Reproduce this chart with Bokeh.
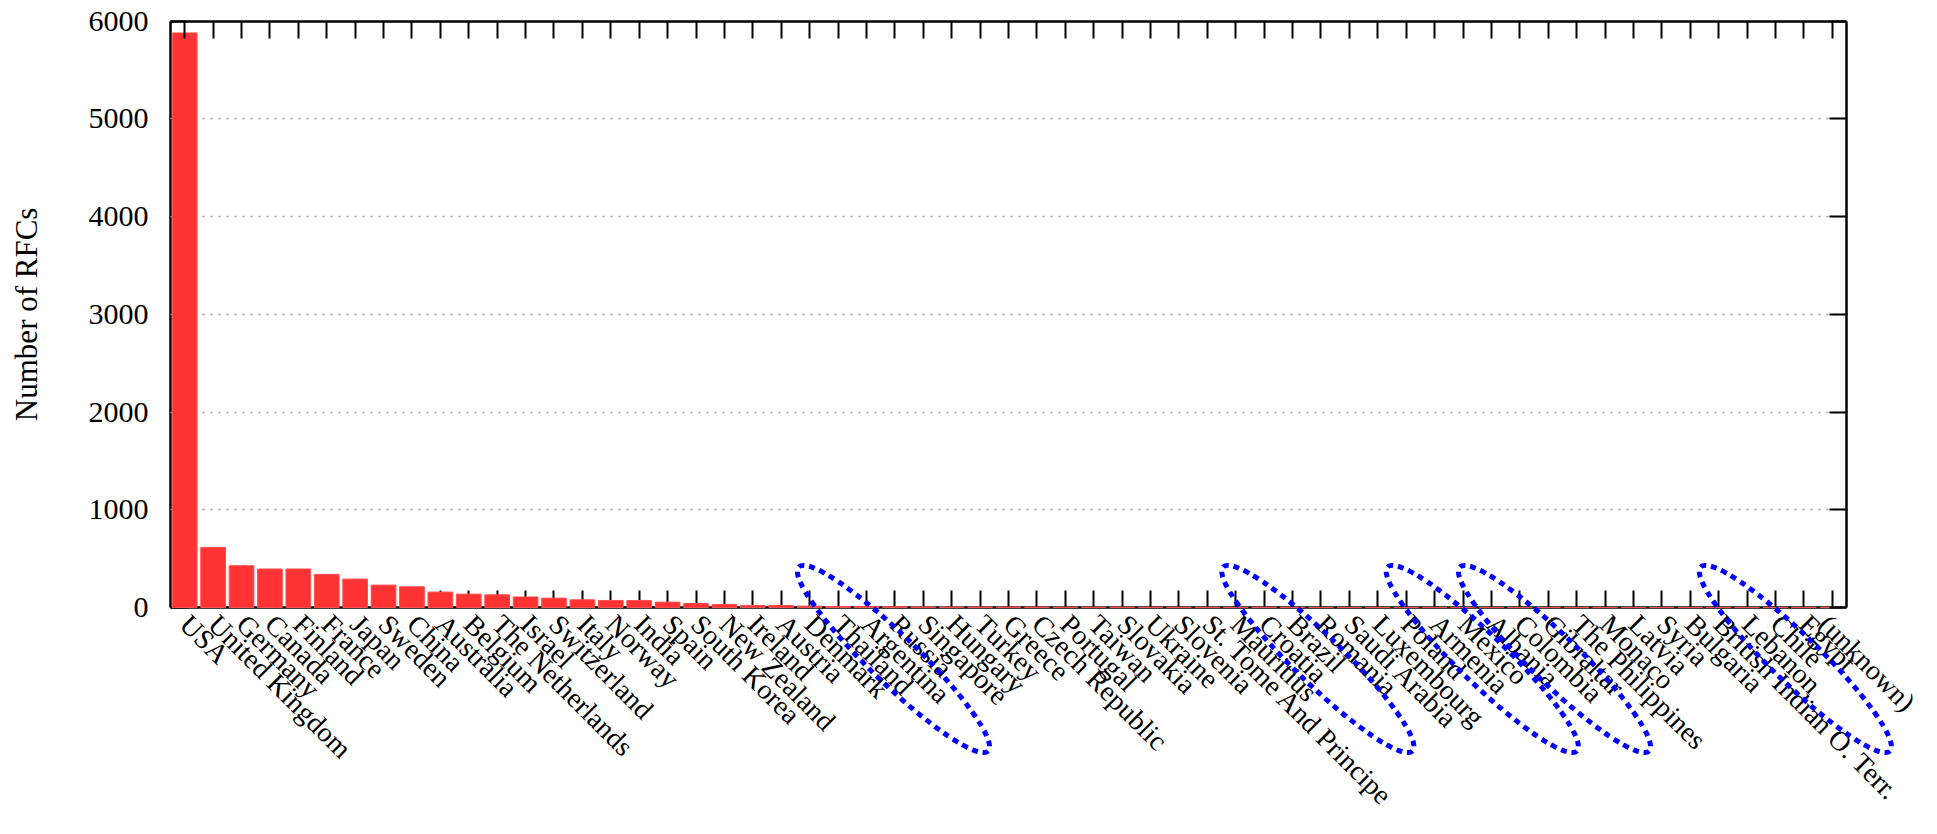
from math import pi
from bokeh.plotting import figure
from bokeh.models import Range1d, LinearAxis, FixedTicker, Label
from bokeh.embed import file_html
from bokeh.resources import INLINE

countries = ["USA", "United Kingdom", "Germany", "Canada", "Finland", "France",
             "Japan", "Sweden", "China", "Australia", "Belgium", "The Netherlands",
             "Israel", "Switzerland", "Italy", "Norway", "India", "Spain",
             "South Korea", "New Zealand", "Ireland", "Austria", "Denmark",
             "Thailand", "Argentina", "Russia", "Singapore", "Hungary", "Turkey",
             "Greece", "Czech Republic", "Portugal", "Taiwan", "Slovakia",
             "Ukraine", "Slovenia", "St. Tome And Principe", "Mauritius",
             "Croatia", "Brazil", "Romania", "Saudi Arabia", "Luxembourg",
             "Poland", "Armenia", "Mexico", "Albania", "Colombia", "Gibraltar",
             "The Philippines", "Monaco", "Latvia", "Syria", "Bulgaria",
             "British Indian O. Terr.", "Lebanon", "Chile", "Egypt", "(unknown)"]

rfcs = [5880, 615, 428, 394, 394, 339, 291, 229, 212, 158, 137, 130,
        108, 96, 79, 72, 72, 55, 41, 31, 21, 21, 14,
        10, 8, 7, 6, 5, 5,
        4, 4, 3, 3, 3,
        2, 2, 2, 2,
        2, 2, 1, 1, 1,
        1, 1, 1, 1, 1, 1,
        1, 1, 1, 1, 1,
        1, 1, 1, 1, 1]

# hand-drawn highlight ellipses (centre in category units / RFC units)
ellipse_x = [24.95, 39.89, 45.68, 48.22, 56.7]
ellipse_y = [-527, -527, -527, -527, -527]

y_ticks = [0, 1000, 2000, 3000, 4000, 5000, 6000]
y_max = 6000
y_label = "Number of RFCs"

FONT = "Liberation Serif"
N = len(countries)
idx = list(range(N))
x_lo, x_hi = -0.5, N - 0.5            # the plotted box in category units

# layout: the frame covers the whole canvas; the box sits inside it
W, H = 1921, 818
BOX_LEFT, BOX_TOP = 170, 20.7           # px
BOX_W, BOX_H = 1676, 586.3              # px
PX_X = BOX_W / N
PX_Y = BOX_H / y_max
X_START = x_lo - BOX_LEFT / PX_X
X_END = X_START + W / PX_X
Y_END = y_max + BOX_TOP / PX_Y
Y_START = Y_END - H / PX_Y

p = figure(x_range=Range1d(X_START, X_END), y_range=Range1d(Y_START, Y_END),
           frame_width=W, frame_height=H,
           min_border_left=0, min_border_right=0, min_border_top=0,
           min_border_bottom=0,
           x_axis_location=None, y_axis_location=None,
           output_backend="svg", toolbar_location=None)
p.outline_line_color = None

# grid
p.xgrid.visible = False
p.ygrid.ticker = FixedTicker(ticks=y_ticks[1:-1])
p.ygrid.grid_line_color = "#999999"
p.ygrid.grid_line_width = 1.5
p.ygrid.grid_line_dash = "2 6"
try:
    p.ygrid.cross_bounds = (x_lo, x_hi)
except Exception:
    pass

p.vbar(x=idx, top=rfcs, width=0.87, fill_color="#ff3333",
       line_color="#ff5050", line_width=1)

tick_common = dict(major_tick_in=17, major_tick_out=0, major_tick_line_width=2,
                   minor_tick_line_color=None, axis_line_width=2.5,
                   axis_line_color="black", major_tick_line_color="black")

# bottom category axis at y = 0 (drawn beneath the bars, like the original)
xa = LinearAxis(ticker=FixedTicker(ticks=idx),
                major_label_overrides={i: c for i, c in enumerate(countries)},
                fixed_location=0, bounds=(x_lo, x_hi), **tick_common)
xa.major_label_orientation = -pi / 4
xa.major_label_text_font = FONT
xa.major_label_text_font_size = "28px"
xa.major_label_text_color = "black"
xa.major_label_standoff = 12
xa.level = "underlay"
p.add_layout(xa, "below")

# mirrored top axis (ticks only)
ta = LinearAxis(ticker=FixedTicker(ticks=idx), fixed_location=y_max,
                bounds=(x_lo, x_hi), major_label_text_color=None,
                major_label_standoff=0, **tick_common)
p.add_layout(ta, "above")

# left y axis
ya = LinearAxis(ticker=FixedTicker(ticks=y_ticks), fixed_location=x_lo,
                bounds=(0, y_max), **tick_common)
ya.major_label_text_font = FONT
ya.major_label_text_font_size = "30px"
ya.major_label_text_color = "black"
ya.major_label_standoff = 22
ya.level = "underlay"
p.add_layout(ya, "left")

# mirrored right axis (ticks only)
ra = LinearAxis(ticker=FixedTicker(ticks=y_ticks), fixed_location=x_hi,
                bounds=(0, y_max), major_label_text_color=None,
                major_label_standoff=0, **tick_common)
p.add_layout(ra, "right")

# y axis title, centred on the box
p.add_layout(Label(x=X_START + 26 / PX_X, y=y_max / 2, text=y_label,
                   angle=90, angle_units="deg", text_align="center",
                   text_baseline="middle", text_font=FONT,
                   text_font_size="31px", text_color="black"))

# highlight ellipses
p.ellipse(x=ellipse_x, y=ellipse_y, width=264, height=48, width_units="screen",
          height_units="screen", angle=-44.2, angle_units="deg",
          fill_color=None, line_color="#0000ff", line_width=5,
          line_dash="6 5")

open("out.html", "w").write(file_html(p, INLINE))
